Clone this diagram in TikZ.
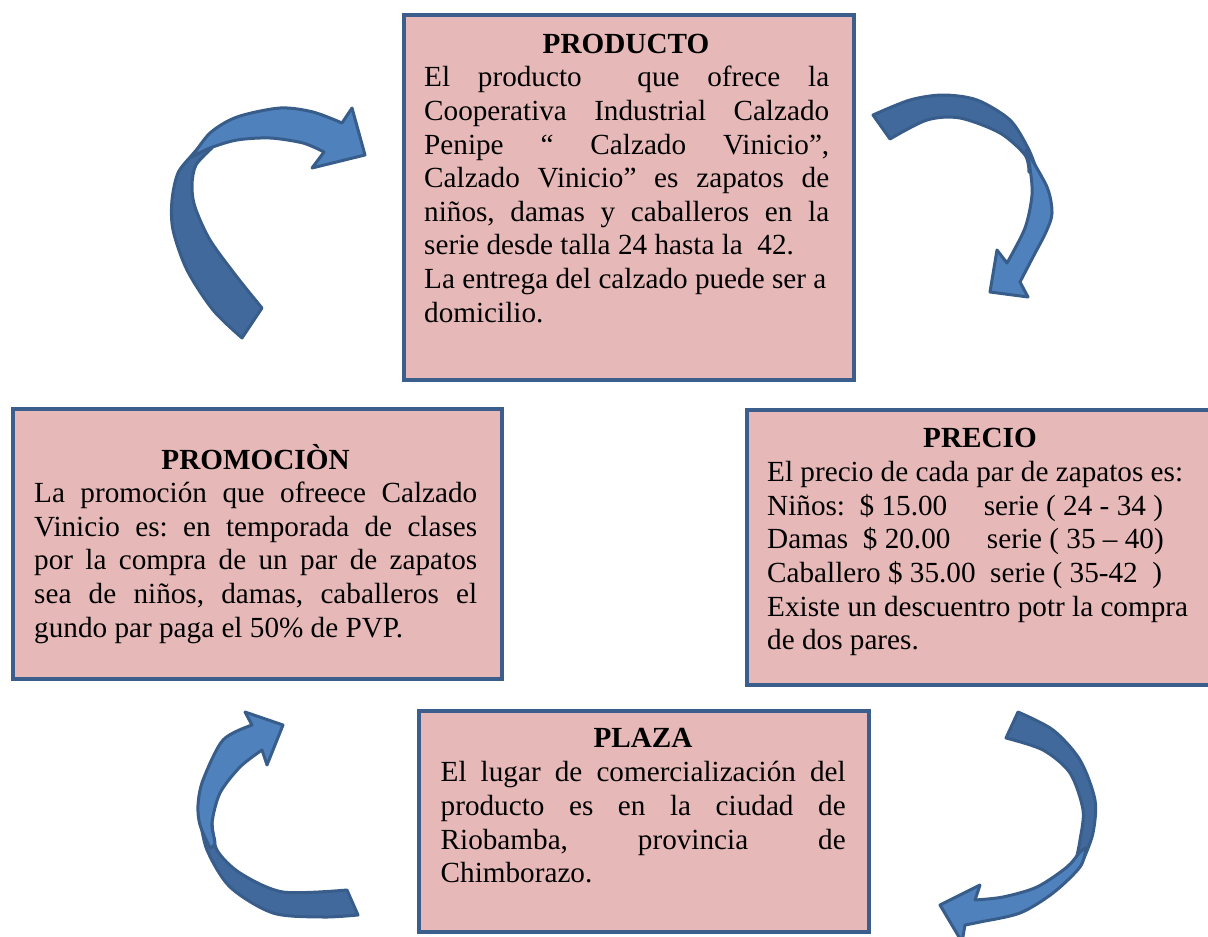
\documentclass[tikz,border=0pt]{standalone}
\usepackage{fontspec}
\setmainfont{Liberation Serif}
\definecolor{boxfill}{HTML}{E6B9B8}
\definecolor{boxline}{HTML}{3B5E8C}
\definecolor{arrline}{HTML}{385D8A}
\definecolor{arrlight}{HTML}{4F81BD}
\definecolor{arrdark}{HTML}{41699C}
\newcommand{\jline}[2]{\makebox[#1][s]{#2}}
\frenchspacing
\begin{document}
\begin{tikzpicture}[x=1pt,y=-1pt,
  panel/.style={draw=boxline, line width=3.8pt, fill=boxfill, inner sep=0pt, anchor=north west},
  ttl/.style={font=\fontsize{29.2}{33.6}\selectfont\bfseries, inner sep=0pt, anchor=base},
  body/.style={font=\fontsize{29.2}{33.6}\selectfont\frenchspacing, inner sep=0pt, anchor=north west, align=left},
  arrback/.style={draw=arrline, line width=3pt, line join=round, fill=arrdark},
  arrfront/.style={draw=arrline, line width=3pt, line join=round, fill=arrlight}]
\useasboundingbox (0,0) rectangle (1208,937);

% ---------- boxes ----------
\node[panel, minimum width=450pt, minimum height=365pt] (prodbox) at (402,13) {};
\node[ttl] (prodttl) at (626,53.3) {PRODUCTO};
\node[body] (prodtxt) at (424,63.2) {\strut\jline{405pt}{El producto\ \ que ofrece la}\\
\jline{405pt}{Cooperativa Industrial Calzado}\\
\jline{405pt}{Penipe “ Calzado Vinicio”,}\\
\jline{405pt}{Calzado Vinicio” es zapatos de}\\
\jline{405pt}{niños, damas y caballeros en la}\\
serie desde talla 24 hasta la\ \ 42.\\
La entrega del calzado puede ser a\\
domicilio.};

\node[panel, minimum width=489pt, minimum height=270pt] (promobox) at (11,407) {};
\node[ttl] (promottl) at (255.5,469) {PROMOCIÒN};
\node[body] (promotxt) at (34,479) {\strut\jline{443pt}{La promoción que ofreece Calzado}\\
\jline{443pt}{Vinicio es: en temporada de clases}\\
\jline{443pt}{por la compra de un par de zapatos}\\
\jline{443pt}{sea de niños, damas, caballeros el}\\
gundo par paga el 50\% de PVP.};

\node[panel, minimum width=480pt, minimum height=275pt] (preciobox) at (745,408) {};
\node[ttl] (precottl) at (980,447.7) {PRECIO};
\node[body] (preciotxt) at (767,458) {\strut El precio de cada par de zapatos es:\\
Niños:\ \ \$ 15.00\ \ \ \ \ serie ( 24 - 34 )\\
Damas\ \ \$ 20.00\ \ \ \ \ serie ( 35 – 40)\\
Caballero \$ 35.00\ \ serie ( 35-42\ \ )\\
Existe un descuentro potr la compra\\
de dos pares.};

\node[panel, minimum width=450pt, minimum height=221pt] (plazabox) at (417,709) {};
\node[ttl] (plazattl) at (643,747.7) {PLAZA};
\node[body] (plazatxt) at (440.5,758.2) {\strut\jline{405pt}{El lugar de comercialización del}\\
\jline{405pt}{producto es en la ciudad de}\\
\jline{405pt}{Riobamba, provincia de}\\
Chimborazo.};

% ---------- arrow 1 (top left) ----------
\draw[arrback] plot[smooth] coordinates {(242,338) (213,310) (187,270) (173,230) (172,200) (178,173) (192,155) (210,135)}
  -- plot[smooth] coordinates {(212,148) (196,165) (192,185) (195,207) (210,240) (237,277) (262,308)} -- cycle;
\draw[arrfront] plot[smooth] coordinates {(192,157) (210,133) (237,117) (280,108) (313,112) (342,123)}
  -- (352,108) -- (365,155) -- (312,168)
  -- plot[smooth] coordinates {(324,152) (303,143) (270,138) (237,140) (210,148) (192,157)} -- cycle;

% ---------- arrow 2 (top right) ----------
\draw[arrback] plot[smooth] coordinates {(873,115) (910,100) (943,95) (977,100) (1010,120) (1028,148) (1036,168)}
  -- plot[smooth] coordinates {(1029,172) (1025,155) (1000,133) (960,118) (927,120) (890,139)} -- cycle;
\draw[arrfront] plot[smooth] coordinates {(1026,150) (1047,187) (1052,213) (1046,232) (1033,257) (1020,282)}
  -- (1028,297) -- (990,292) -- (997,250)
  -- plot[smooth] coordinates {(1007,263) (1025,228) (1032,195) (1030,168) (1026,150)} -- cycle;

% ---------- arrow 3 (bottom left) ----------
\draw[arrback] plot[smooth] coordinates {(200,818) (207,850) (230,887) (273,913) (323,917) (358,915)}
  -- plot[smooth] coordinates {(347,890) (283,892) (240,873) (217,850) (212,823) (213,812)} -- cycle;
\draw[arrfront] plot[smooth] coordinates {(210,848) (200,825) (198,805) (203,780) (223,740) (252,725)}
  -- (245,712) -- (283,725) -- (267,765)
  -- plot[smooth] coordinates {(262,750) (240,767) (220,793) (212,823) (215,843) (210,848)} -- cycle;

% ---------- arrow 4 (bottom right) ----------
\draw[arrback] plot[smooth] coordinates {(1018,712) (1053,730) (1080,760) (1095,800) (1093,833) (1084,858)}
  -- plot[smooth] coordinates {(1076,860) (1080,840) (1083,810) (1070,773) (1043,750) (1006,738)} -- cycle;
\draw[arrfront] plot[smooth] coordinates {(1086,848) (1080,867) (1053,893) (1020,913) (980,922) (965,925)}
  -- (962,942) -- (940,905) -- (980,885)
  -- plot[smooth] coordinates {(975,900) (1003,897) (1037,887) (1067,867) (1080,852) (1086,848)} -- cycle;
\end{tikzpicture}
\end{document}
